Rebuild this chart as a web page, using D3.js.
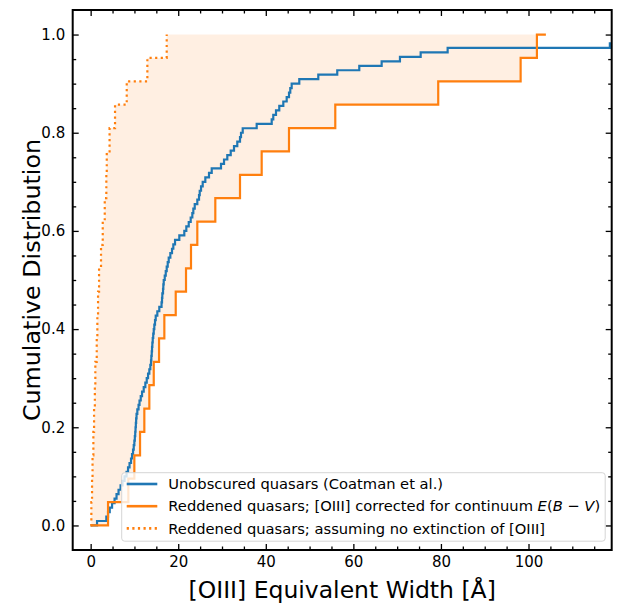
<!DOCTYPE html>
<html>
<head>
<meta charset="utf-8">
<script src="https://cdn.jsdelivr.net/npm/d3@7"></script>
<style>
body { margin: 0; background: #fff; }
text { font-family: "DejaVu Sans", sans-serif; }
</style>
</head>
<body>
<script>
// sorted [OIII] EW values (Angstrom)
var unobscuredEW = [1.46, 3.58, 3.97, 4.36, 4.89, 5.46, 5.91, 6.37, 6.83, 7.28,
	7.74, 8.2, 8.54, 8.88, 9.22, 9.45, 9.68, 9.84, 9.98, 10.09,
	10.18, 10.25, 10.32, 10.39, 10.48, 10.66, 10.94, 11.16, 11.44, 11.74,
	12.12, 12.49, 12.81, 13.11, 13.4, 13.63, 13.79, 13.86, 13.95, 14.02,
	14.09, 14.18, 14.29, 14.41, 14.54, 14.7, 14.86, 15.23, 15.68, 16.19,
	16.3, 16.37, 16.53, 16.6, 16.69, 16.92, 17.15, 17.37, 17.6, 17.83,
	18.2, 18.58, 18.88, 19.27, 20.25, 21.39, 21.85, 22.4, 22.85, 23.22,
	23.45, 23.77, 24.36, 24.75, 24.91, 25.21, 25.59, 26.19, 27.03, 27.65,
	29.77, 30.46, 31.21, 31.99, 32.74, 33.49, 34.11, 34.34, 34.73, 37.92,
	41.35, 41.71, 42.33, 43.08, 44.0, 44.77, 45.3, 45.59, 45.91, 47.65,
	51.99, 56.32, 61.35, 66.46, 70.64, 75.37, 81.53, 118.58, 124.0, 141.0];
var reddenedCorrEW = [3.97, 8.61, 9.98, 11.28, 12.26, 13.4, 14.41, 15.62, 16.83, 19.43,
	21.78, 22.92, 24.36, 28.47, 34.11, 39.06, 45.3, 55.87, 79.38, 98.2, 101.92];
var reddenedCorrMax = 103.97;
var reddenedRawEW = [0.16, 0.32, 0.43, 0.62, 0.78, 0.96, 1.07, 1.39, 1.53, 1.69,
	1.92, 2.37, 2.76, 3.22, 3.58, 3.68, 4.32, 5.57, 8.24, 12.95, 17.37];

var xTicks = [0, 20, 40, 60, 80, 100];
var yTicks = [0.0, 0.2, 0.4, 0.6, 0.8, 1.0];
var legendLabels = ["Unobscured quasars (Coatman et al.)",
	"Reddened quasars; [OIII] corrected for continuum ",
	"Reddened quasars; assuming no extinction of [OIII]"];

var blue = "#1f77b4", orange = "#ff7f0e";
var axL = 72.7, axR = 611.7, axT = 10, axB = 550;
var lw = 2.2;

var svg = d3.select("body")
	.append("svg")
	.attr("width", 619)
	.attr("height", 603);

var x = d3.scaleLinear().domain([-4.1, 119]).range([axL, axR]);
var y = d3.scaleLinear().domain([-0.05, 1.05]).range([axB, axT]);

svg.append("clipPath").attr("id", "clip")
	.append("rect")
	.attr("x", axL).attr("y", axT)
	.attr("width", axR - axL).attr("height", axB - axT);

// cdf points starting at (0,0)
function cdf(vals) {
	var pts = [[0, 0]];
	vals.forEach(function (v, i) { pts.push([v, (i + 1) / vals.length]); });
	return pts;
}
// explicit step-post vertices, used for the shaded band
function stepVerts(vals) {
	var pts = [[0, 0]];
	vals.forEach(function (v, i) {
		pts.push([v, i / vals.length]);
		pts.push([v, (i + 1) / vals.length]);
	});
	return pts;
}

var stepLine = d3.line()
	.x(function (d) { return x(d[0]); })
	.y(function (d) { return y(d[1]); })
	.curve(d3.curveStepAfter);
var polyLine = d3.line()
	.x(function (d) { return x(d[0]); })
	.y(function (d) { return y(d[1]); });

var plot = svg.append("g").attr("clip-path", "url(#clip)");

var band = stepVerts(reddenedRawEW).concat(stepVerts(reddenedCorrEW).reverse());
plot.append("path")
	.attr("d", polyLine(band) + "Z")
	.attr("fill", orange)
	.attr("fill-opacity", 0.12)
	.attr("stroke", "none");

plot.append("path")
	.attr("d", stepLine(cdf(unobscuredEW)))
	.attr("fill", "none")
	.attr("stroke", blue)
	.attr("stroke-width", lw);

var corr = cdf(reddenedCorrEW);
corr.push([reddenedCorrMax, 1]);
plot.append("path")
	.attr("d", stepLine(corr))
	.attr("fill", "none")
	.attr("stroke", orange)
	.attr("stroke-width", lw);

plot.append("path")
	.attr("d", stepLine(cdf(reddenedRawEW)))
	.attr("fill", "none")
	.attr("stroke", orange)
	.attr("stroke-width", lw)
	.attr("stroke-dasharray", "2.2,3.4");

// axes, ticks pointing inward on all sides
var xMinor = d3.range(0, 120, 5).filter(function (v) { return v % 20 != 0; });
var yMinor = d3.range(0, 21).map(function (i) { return i * 0.05; })
	.filter(function (v, i) { return i % 4 != 0; });

function addAxis(axis, tx, ty) {
	var g = svg.append("g")
		.attr("transform", "translate(" + tx + "," + ty + ")")
		.call(axis);
	g.select(".domain").remove();
	g.selectAll("line").attr("stroke", "#000").attr("stroke-width", 1.3);
	g.selectAll("text").attr("font-size", "15px").attr("fill", "#000")
		.style("font-family", "DejaVu Sans, sans-serif");
	return g;
}

addAxis(d3.axisBottom(x).tickValues(xTicks).tickSize(-6).tickPadding(6.3)
	.tickFormat(d3.format("d")), 0, axB);
addAxis(d3.axisBottom(x).tickValues(xMinor).tickSize(-3.5).tickFormat(""), 0, axB);
addAxis(d3.axisTop(x).tickValues(xTicks).tickSize(-6).tickFormat(""), 0, axT);
addAxis(d3.axisTop(x).tickValues(xMinor).tickSize(-3.5).tickFormat(""), 0, axT);
addAxis(d3.axisLeft(y).tickValues(yTicks).tickSize(-6).tickPadding(7.5)
	.tickFormat(d3.format(".1f")), axL, 0);
addAxis(d3.axisLeft(y).tickValues(yMinor).tickSize(-3.5).tickFormat(""), axL, 0);
addAxis(d3.axisRight(y).tickValues(yTicks).tickSize(-6).tickFormat(""), axR, 0);
addAxis(d3.axisRight(y).tickValues(yMinor).tickSize(-3.5).tickFormat(""), axR, 0);

svg.append("rect")
	.attr("x", axL).attr("y", axT)
	.attr("width", axR - axL).attr("height", axB - axT)
	.attr("fill", "none")
	.attr("stroke", "#000")
	.attr("stroke-width", 2);

svg.append("text")
	.attr("x", (axL + axR) / 2)
	.attr("y", 598)
	.attr("text-anchor", "middle")
	.attr("font-size", "23.5px")
	.text("[OIII] Equivalent Width [Å]");

svg.append("text")
	.attr("transform", "translate(39.5," + (axT + axB) / 2 + ") rotate(-90)")
	.attr("text-anchor", "middle")
	.attr("font-size", "23.8px")
	.text("Cumulative Distribution");

// legend
var legend = svg.append("g");
legend.append("rect")
	.attr("x", 121.7).attr("y", 472.7)
	.attr("width", 483.5).attr("height", 68.5)
	.attr("rx", 3)
	.attr("fill", "#fff").attr("fill-opacity", 0.8)
	.attr("stroke", "#d5d5d5").attr("stroke-width", 1);

var rows = [
	{ color: blue, dash: null },
	{ color: orange, dash: null },
	{ color: orange, dash: "2.2,3.4" }
];
rows.forEach(function (r, i) {
	var cy = 484 + i * 22.2;
	legend.append("line")
		.attr("x1", 126.7).attr("x2", 157.3)
		.attr("y1", cy).attr("y2", cy)
		.attr("stroke", r.color)
		.attr("stroke-width", 2.6)
		.attr("stroke-dasharray", r.dash);
	var t = legend.append("text")
		.attr("x", 168.3).attr("y", cy)
		.attr("dy", "0.36em")
		.attr("font-size", "14.7px")
		.text(legendLabels[i]);
	if (i == 1) {
		t.append("tspan").attr("font-style", "italic").text("E");
		t.append("tspan").text("(");
		t.append("tspan").attr("font-style", "italic").text("B");
		t.append("tspan").text(" \u2212 ");
		t.append("tspan").attr("font-style", "italic").text("V");
		t.append("tspan").text(")");
	}
});
</script>
</body>
</html>
